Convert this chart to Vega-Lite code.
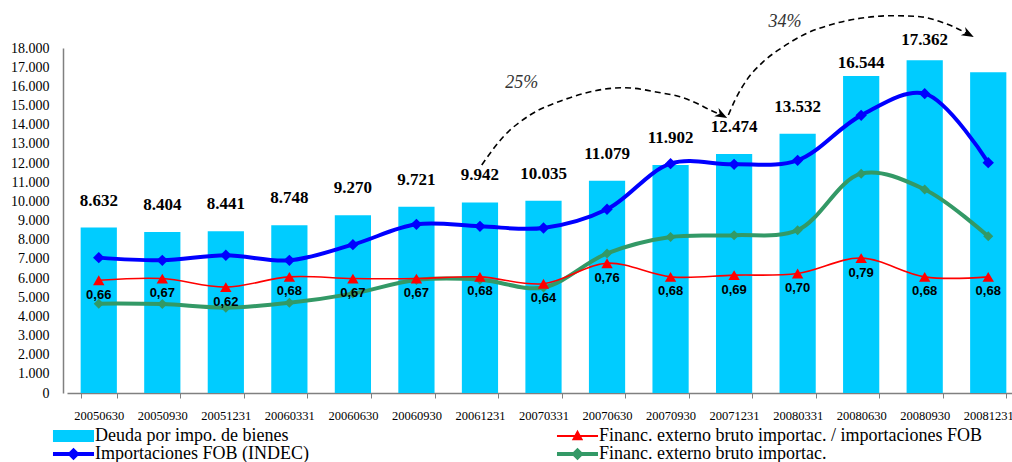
{
  "$schema": "https://vega.github.io/schema/vega-lite/v6.json",
  "width": 945,
  "height": 345,
  "autosize": "none",
  "padding": {"left": 67, "top": 48, "right": 0, "bottom": 69},
  "background": "white",
  "config": {
    "view": {"stroke": null},
    "locale": {"number": {"decimal": ",", "thousands": ".", "grouping": [3], "currency": ["", ""]}},
    "axis": {"labelOverlap": false, "grid": false, "title": null},
    "axisY": {
      "ticks": false, "tickSize": 0, "tickCount": 18, "format": ",d",
      "labelFont": "Liberation Serif", "labelFontSize": 14, "labelColor": "black",
      "domainColor": "#808080", "domainWidth": 1.5, "offset": 4, "labelPadding": 14, "labelOverlap": false
    },
    "axisX": {
      "labelAngle": 0, "tickBand": "extent", "tickSize": 5,
      "labelPadding": 11, "labelFont": "Liberation Serif", "labelFontSize": 12.5,
      "labelColor": "black", "domainColor": "#808080", "tickColor": "#808080",
      "domainWidth": 1.5, "labelBaseline": "top", "labelOverlap": false
    }
  },
  "datasets": {
    "main": [
      {"date": "20050630", "deuda": 8632, "importaciones": 7063, "financ": 4662, "ratio": 0.66},
      {"date": "20050930", "deuda": 8404, "importaciones": 6922, "financ": 4638, "ratio": 0.67},
      {"date": "20051231", "deuda": 8441, "importaciones": 7183, "financ": 4453, "ratio": 0.62},
      {"date": "20060331", "deuda": 8748, "importaciones": 6922, "financ": 4707, "ratio": 0.68},
      {"date": "20060630", "deuda": 9270, "importaciones": 7741, "financ": 5186, "ratio": 0.67},
      {"date": "20060930", "deuda": 9721, "importaciones": 8800, "financ": 5896, "ratio": 0.67},
      {"date": "20061231", "deuda": 9942, "importaciones": 8696, "financ": 5913, "ratio": 0.68},
      {"date": "20070331", "deuda": 10035, "importaciones": 8607, "financ": 5508, "ratio": 0.64},
      {"date": "20070630", "deuda": 11079, "importaciones": 9583, "financ": 7283, "ratio": 0.76},
      {"date": "20070930", "deuda": 11902, "importaciones": 11967, "financ": 8138, "ratio": 0.68},
      {"date": "20071231", "deuda": 12474, "importaciones": 11930, "financ": 8232, "ratio": 0.69},
      {"date": "20080331", "deuda": 13532, "importaciones": 12139, "financ": 8497, "ratio": 0.70},
      {"date": "20080630", "deuda": 16544, "importaciones": 14486, "financ": 11444, "ratio": 0.79},
      {"date": "20080930", "deuda": 17362, "importaciones": 15618, "financ": 10620, "ratio": 0.68},
      {"date": "20081231", "deuda": 16741, "importaciones": 12019, "financ": 8173, "ratio": 0.68}
    ],
    "arcs": [
      {"arc": "a", "x": 6.528, "y": 11894},
      {"arc": "a", "x": 6.868, "y": 13372},
      {"arc": "a", "x": 7.288, "y": 14504},
      {"arc": "a", "x": 7.812, "y": 15287},
      {"arc": "a", "x": 8.442, "y": 15845},
      {"arc": "a", "x": 8.757, "y": 15929},
      {"arc": "a", "x": 9.386, "y": 15636},
      {"arc": "a", "x": 9.648, "y": 15459},
      {"arc": "a", "x": 9.912, "y": 15115},
      {"arc": "a", "x": 10.121, "y": 14765},
      {"arc": "a", "x": 10.306, "y": 14504},
      {"arc": "b", "x": 10.41, "y": 14504},
      {"arc": "b", "x": 10.515, "y": 15287},
      {"arc": "b", "x": 10.699, "y": 16330},
      {"arc": "b", "x": 10.96, "y": 17285},
      {"arc": "b", "x": 11.275, "y": 18068},
      {"arc": "b", "x": 11.643, "y": 18767},
      {"arc": "b", "x": 12.062, "y": 19252},
      {"arc": "b", "x": 12.482, "y": 19549},
      {"arc": "b", "x": 13.007, "y": 19685},
      {"arc": "b", "x": 13.427, "y": 19633},
      {"arc": "b", "x": 13.793, "y": 19320},
      {"arc": "b", "x": 14.187, "y": 18730}
    ],
    "tips": [
      {"arc": "a", "x": 10.306, "y": 14504},
      {"arc": "b", "x": 14.187, "y": 18730}
    ],
    "notes": [
      {"label": "25%", "x": 7.157, "y": 16158},
      {"label": "34%", "x": 11.302, "y": 19372}
    ]
  },
  "layer": [
    {
      "data": {"name": "main"},
      "encoding": {
        "x": {
          "field": "date", "type": "nominal", "sort": null,
          "scale": {"range": [0, 953], "paddingInner": 0.43, "paddingOuter": 0.215}
        }
      },
      "layer": [
        {
          "layer": [
            {
              "mark": {"type": "bar", "color": "#00CCFF"},
              "encoding": {
                "y": {
                  "field": "deuda", "type": "quantitative",
                  "scale": {"domain": [0, 18000], "nice": false, "zero": true}
                },
                "color": {
                  "datum": "Deuda por impo. de bienes", "type": "nominal",
                  "scale": {
                    "domain": ["Deuda por impo. de bienes", "Importaciones FOB (INDEC)", "Financ. externo bruto importac. / importaciones FOB", "Financ. externo bruto importac."],
                    "range": ["#00CCFF", "#0000FF", "#FF0000", "#339966"]
                  },
                  "legend": {
                    "orient": "none", "legendX": -2.5, "legendY": 379, "padding": 0,
                    "title": null, "columns": 2, "columnPadding": 247, "rowPadding": 0,
                    "labelFont": "Liberation Serif", "labelFontSize": 18, "labelColor": "black",
                    "labelOffset": 12.5, "labelLimit": 700, "symbolSize": 144,
                    "symbolStrokeWidth": 0,
                    "encode": {
                      "symbols": {
                        "update": {
                          "shape": {"signal": "datum.value === 'Deuda por impo. de bienes' ? 'M-3.42,-1H3.42V1H-3.42Z' : datum.value === 'Financ. externo bruto importac. / importaciones FOB' ? 'M-3.42,-0.16H3.42V0.16H-3.42Z M0,-1.05L0.95,0.7L-0.95,0.7Z' : 'M-3.42,-0.33H3.42V0.33H-3.42Z M0,-1.05L1.05,0L0,1.05L-1.05,0Z'"},
                          "fill": {"scale": "color", "field": "value"},
                          "stroke": {"value": "transparent"},
                          "strokeWidth": {"value": 0},
                          "opacity": {"value": 1},
                          "fillOpacity": {"value": 1}
                        }
                      }
                    }
                  }
                }
              }
            },
            {
              "transform": [{"filter": "datum.deuda < 16500"}],
              "mark": {"type": "text", "font": "Liberation Serif", "fontWeight": "bold", "fontSize": 17, "baseline": "middle", "dy": -27, "color": "black"},
              "encoding": {
                "y": {"field": "deuda", "type": "quantitative"},
                "text": {"field": "deuda", "type": "quantitative", "format": ",d"}
              }
            },
            {
              "transform": [{"filter": "datum.date === '20080630'"}],
              "mark": {"type": "text", "font": "Liberation Serif", "fontWeight": "bold", "fontSize": 17, "baseline": "middle", "dy": -13, "color": "black"},
              "encoding": {
                "y": {"field": "deuda", "type": "quantitative"},
                "text": {"field": "deuda", "type": "quantitative", "format": ",d"}
              }
            },
            {
              "transform": [{"filter": "datum.date === '20080930'"}],
              "mark": {"type": "text", "font": "Liberation Serif", "fontWeight": "bold", "fontSize": 17, "baseline": "middle", "dy": -20, "color": "black"},
              "encoding": {
                "y": {"field": "deuda", "type": "quantitative"},
                "text": {"field": "deuda", "type": "quantitative", "format": ",d"}
              }
            },
            {
              "mark": {"type": "line", "interpolate": "catmull-rom", "strokeWidth": 4, "point": {"shape": "diamond", "size": 100, "filled": true, "color": "#339966"}},
              "encoding": {
                "y": {"field": "financ", "type": "quantitative"},
                "color": {"datum": "Financ. externo bruto importac.", "type": "nominal"}
              }
            },
            {
              "mark": {"type": "line", "interpolate": "catmull-rom", "strokeWidth": 4, "point": {"shape": "diamond", "size": 130, "filled": true, "color": "#0000FF"}},
              "encoding": {
                "y": {"field": "importaciones", "type": "quantitative"},
                "color": {"datum": "Importaciones FOB (INDEC)", "type": "nominal"}
              }
            }
          ]
        },
        {
          "layer": [
            {
              "mark": {"type": "line", "interpolate": "catmull-rom", "strokeWidth": 1.6, "point": {"shape": "triangle-up", "size": 130, "filled": true, "color": "#FF0000"}},
              "encoding": {
                "y": {"field": "ratio", "type": "quantitative", "scale": {"domain": [0, 2.02], "nice": false}, "axis": null},
                "color": {"datum": "Financ. externo bruto importac. / importaciones FOB", "type": "nominal"}
              }
            },
            {
              "mark": {"type": "text", "font": "Liberation Sans", "fontWeight": "bold", "fontSize": 13, "baseline": "middle", "dy": 14.5, "color": "black"},
              "encoding": {
                "y": {"field": "ratio", "type": "quantitative", "axis": null},
                "text": {"field": "ratio", "type": "quantitative", "format": ".2f"}
              }
            }
          ]
        }
      ],
      "resolve": {"scale": {"y": "independent"}}
    },
    {
      "layer": [
        {
          "data": {"name": "arcs"},
          "mark": {"type": "line", "interpolate": "monotone", "strokeWidth": 1.6, "strokeDash": [6, 4], "color": "black"},
          "encoding": {
            "x": {"field": "x", "type": "quantitative", "scale": {"domain": [0, 15], "range": [0, 953], "nice": false, "zero": false}, "axis": null},
            "y": {"field": "y", "type": "quantitative", "scale": {"domain": [0, 18000], "nice": false}, "axis": null},
            "detail": {"field": "arc"}
          }
        },
        {
          "data": {"name": "tips"},
          "mark": {"type": "point", "shape": "M1,0L-1,-0.75L-0.4,0L-1,0.75Z", "size": 150, "filled": true, "color": "black", "opacity": 1, "angle": 28},
          "encoding": {
            "x": {"field": "x", "type": "quantitative", "axis": null},
            "y": {"field": "y", "type": "quantitative", "axis": null}
          }
        },
        {
          "data": {"name": "notes"},
          "mark": {"type": "text", "font": "Liberation Serif", "fontStyle": "italic", "fontSize": 18, "baseline": "middle", "color": "#333333"},
          "encoding": {
            "x": {"field": "x", "type": "quantitative", "axis": null},
            "y": {"field": "y", "type": "quantitative", "axis": null},
            "text": {"field": "label"}
          }
        }
      ]
    }
  ],
  "resolve": {"scale": {"x": "independent", "y": "independent"}}
}
